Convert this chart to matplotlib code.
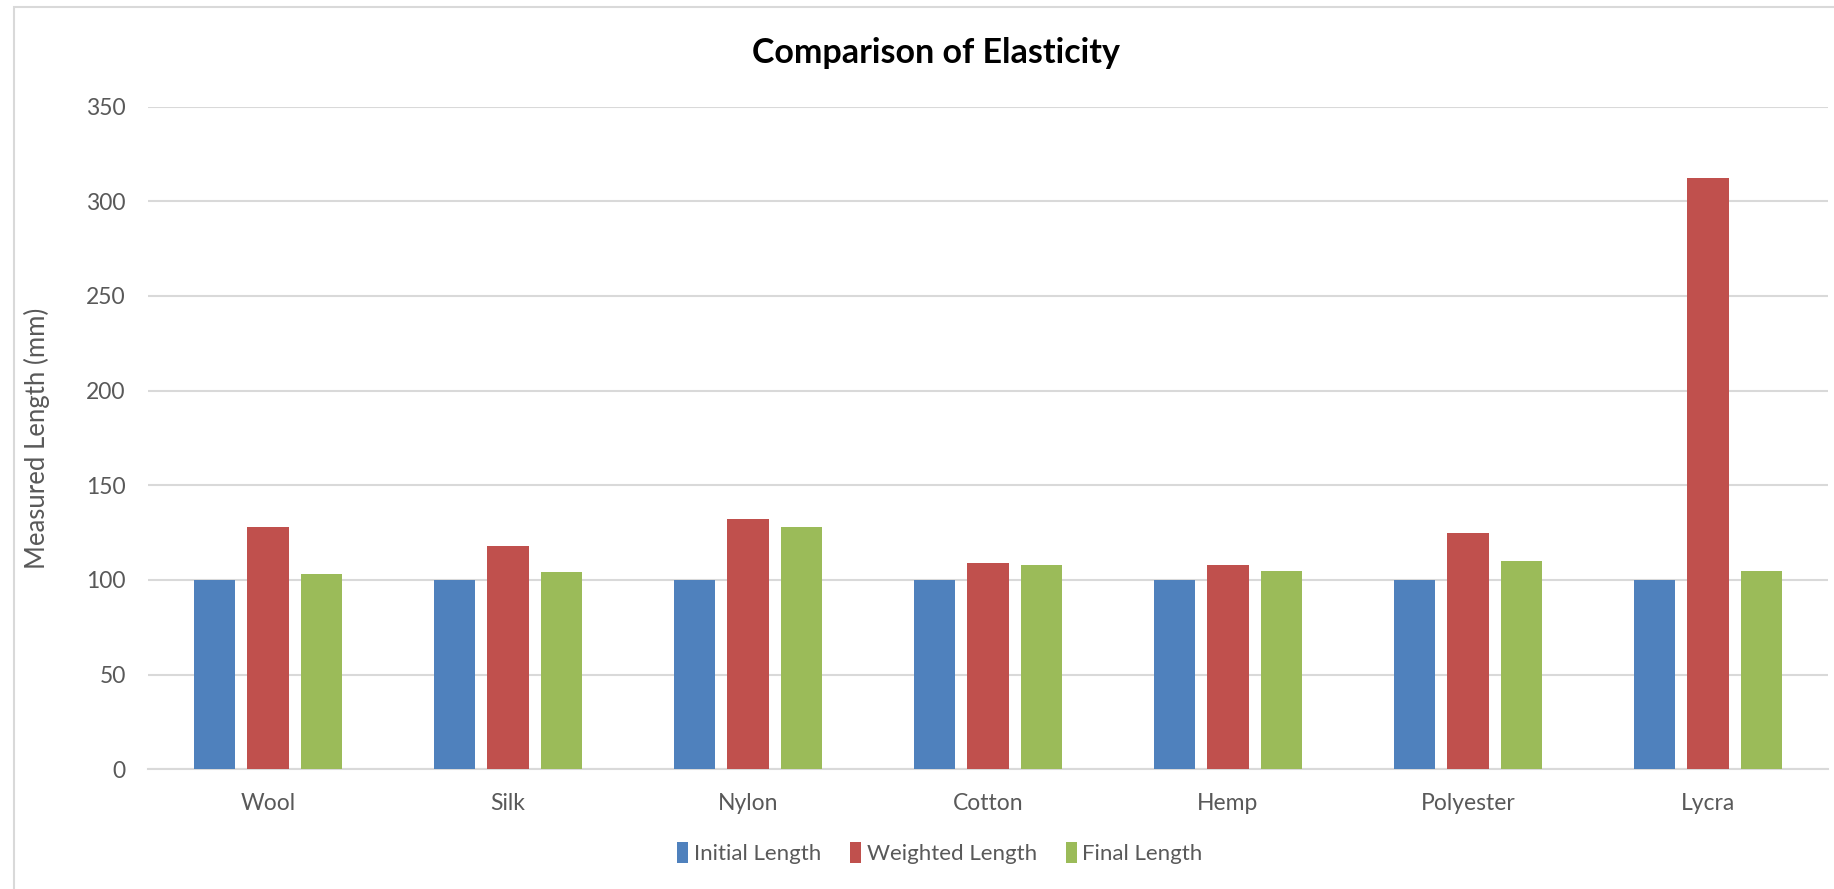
import numpy as np
import matplotlib.pyplot as plt
from matplotlib.patches import Rectangle

# data
fibres = ['Wool', 'Silk', 'Nylon', 'Cotton', 'Hemp', 'Polyester', 'Lycra']
initial_length = [100, 100, 100, 100, 100, 100, 100]
weighted_length = [128, 118, 132, 109, 108, 125, 312]
final_length = [103, 104, 128, 108, 105, 110, 105]

series_names = ['Initial Length', 'Weighted Length', 'Final Length']
series_colors = ['#4F81BD', '#C0504D', '#9BBB59']
yticks = [0, 50, 100, 150, 200, 250, 300, 350]

plt.rcParams['font.family'] = ['Lato', 'DejaVu Sans']
text_col = '#595959'


def main():
	W, H = 1834, 889
	fig = plt.figure(figsize=(W / 100, H / 100), dpi=100)

	# chart border (Excel style), cut off on the right and bottom
	fig.patches.append(Rectangle((14 / W, -0.05), 1.2, 1 - 7 / H + 0.05,
		transform=fig.transFigure, fill=False, edgecolor='#d9d9d9', linewidth=1.5))

	ax = fig.add_axes([148 / W, 1 - 769.4 / H, (1828 - 148) / W, (769.4 - 106.5) / H])

	x = np.arange(len(fibres))
	bw = 0.173
	step = 0.222
	all_series = [initial_length, weighted_length, final_length]
	for i, vals in enumerate(all_series):
		ax.bar(x + (i - 1) * step, vals, width=bw, color=series_colors[i],
			label=series_names[i], zorder=3)

	ax.set_xlim(-0.5, len(fibres) - 0.5)
	ax.set_ylim(0, 350)
	ax.set_yticks(yticks)
	ax.set_xticks(x)
	ax.set_xticklabels(fibres)
	ax.grid(axis='y', color='#d9d9d9', linewidth=1.5, zorder=0)
	for s in ['top', 'right', 'left']:
		ax.spines[s].set_visible(False)
	ax.spines['bottom'].set_color('#d9d9d9')
	ax.spines['bottom'].set_linewidth(1.5)
	ax.tick_params(axis='both', length=0, labelsize=16.5, labelcolor=text_col)
	ax.tick_params(axis='x', pad=17)
	ax.tick_params(axis='y', pad=16)

	ax.set_ylabel('Measured Length (mm)', fontsize=18.5, color=text_col)
	ax.yaxis.set_label_coords((50 - 148) / (1828 - 148), 0.5)

	fig.text(936 / W, 1 - 53 / H, 'Comparison of Elasticity', ha='center', va='center',
		fontsize=24.5, fontweight='bold', color='black')

	leg = fig.legend(loc='center', bbox_to_anchor=(940 / W, 1 - 853 / H), ncol=3,
		frameon=False, fontsize=16, handlelength=0.5, handleheight=1.1,
		handletextpad=0.25, columnspacing=1.3, borderaxespad=0)
	for t in leg.get_texts():
		t.set_color(text_col)

	fig.savefig('out.png', dpi=100)


if __name__ == '__main__':
	main()
